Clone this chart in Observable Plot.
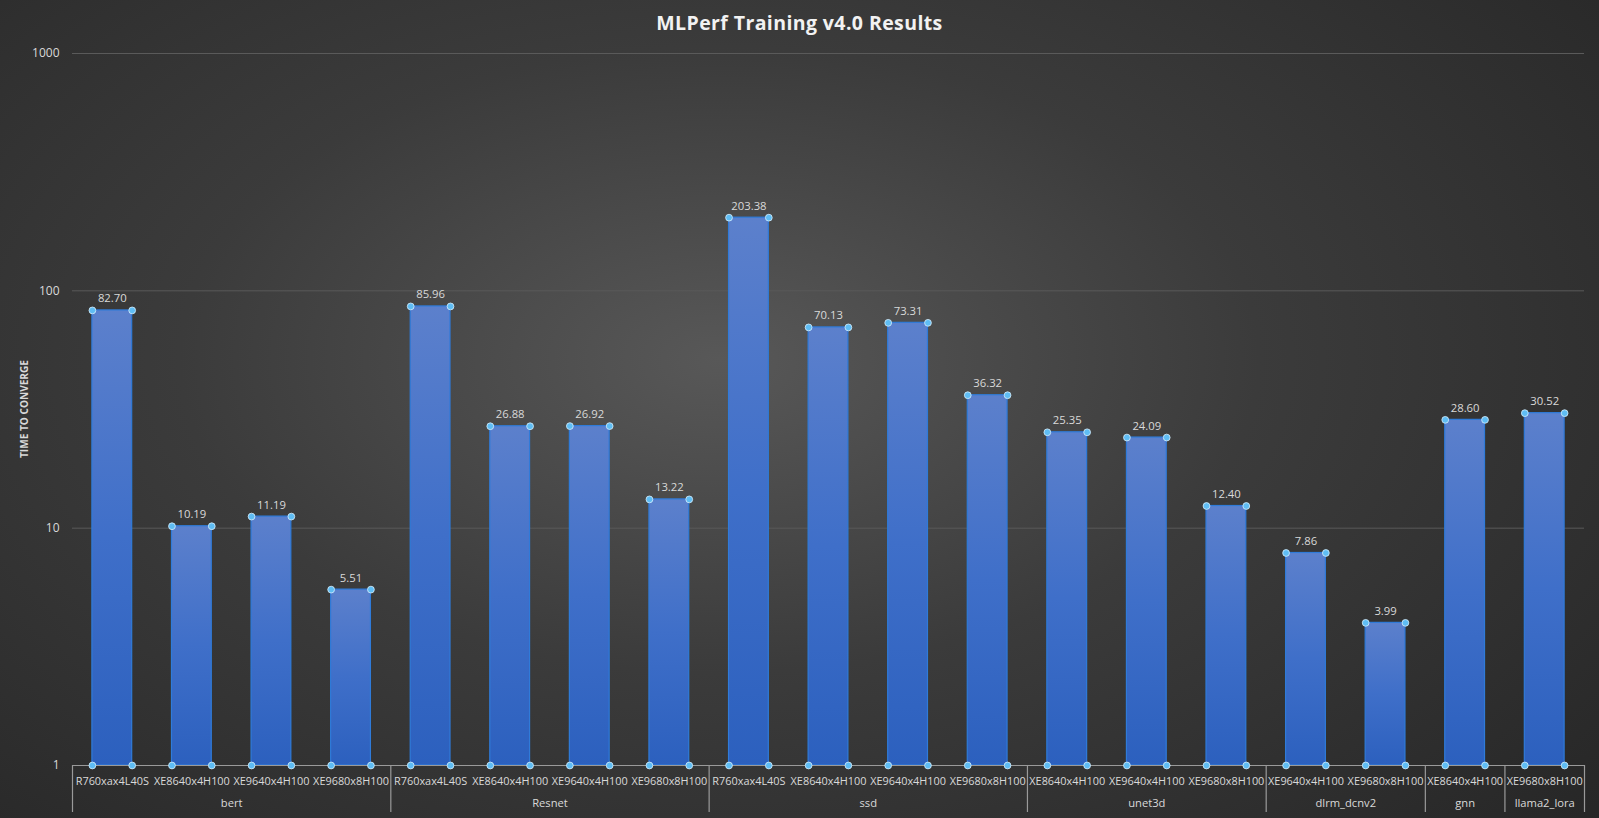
<!DOCTYPE html>
<html>
<head>
<meta charset="utf-8">
<script src="https://cdn.jsdelivr.net/npm/d3@7"></script>
<script src="https://cdn.jsdelivr.net/npm/@observablehq/plot@0.6"></script>
<style>
  html, body { margin: 0; padding: 0; }
  body {
    width: 1599px; height: 818px; overflow: hidden;
    background: radial-gradient(ellipse 75% 85% at 45% 44%, #585858 0%, #3b3b3b 45%, #262626 100%);
    font-family: "Open Sans", sans-serif;
    position: relative;
  }
  #title {
    position: absolute; left: 0; top: 9px; width: 1599px; text-align: center;
    color: #f2f2f2; font: bold 19.5px "Open Sans", sans-serif; letter-spacing: 0.4px;
  }
  #chart { position: absolute; left: 0; top: 0; }
</style>
</head>
<body>
<div id="title">MLPerf Training v4.0 Results</div>
<div id="chart"></div>
<script>
// ---- data ----
const benchmarks = ["bert","bert","bert","bert","Resnet","Resnet","Resnet","Resnet","ssd","ssd","ssd","ssd","unet3d","unet3d","unet3d","dlrm_dcnv2","dlrm_dcnv2","gnn","llama2_lora"];
const servers = ["R760xax4L40S","XE8640x4H100","XE9640x4H100","XE9680x8H100",
                 "R760xax4L40S","XE8640x4H100","XE9640x4H100","XE9680x8H100",
                 "R760xax4L40S","XE8640x4H100","XE9640x4H100","XE9680x8H100",
                 "XE8640x4H100","XE9640x4H100","XE9680x8H100",
                 "XE9640x4H100","XE9680x8H100",
                 "XE8640x4H100",
                 "XE9680x8H100"];
const timeToConverge = [82.70,10.19,11.19,5.51, 85.96,26.88,26.92,13.22, 203.38,70.13,73.31,36.32, 25.35,24.09,12.40, 7.86,3.99, 28.60, 30.52];
const yTicks = [1, 10, 100, 1000];

// ---- derived tables ----
const rows = servers.map((s, i) => ({i, server: s, group: benchmarks[i], value: timeToConverge[i]}));
const groupNames = [...new Set(benchmarks)];
const groups = groupNames.map(g => {
  const idx = rows.filter(r => r.group === g).map(r => r.i);
  return {name: g, start: idx[0], end: idx[idx.length - 1] + 1};
});
const boundaries = [0, ...groups.map(g => g.end)];
const corners = rows.flatMap(r => [
  {x: r.i + 0.25, y: r.value}, {x: r.i + 0.75, y: r.value},
  {x: r.i + 0.25, y: 1}, {x: r.i + 0.75, y: 1}
]);

const W = 1599, H = 818;
const labelColor = "#d9d9d9";

const plot = Plot.plot({
  width: W, height: H,
  marginLeft: 72, marginRight: 15, marginTop: 53, marginBottom: 53,
  style: {background: "transparent", color: labelColor, fontFamily: "Open Sans, sans-serif", overflow: "visible"},
  x: {type: "linear", domain: [0, rows.length], axis: null},
  y: {type: "log", domain: [1, 1000], axis: null},
  marks: [
    Plot.ruleY(yTicks.filter(t => t > 1), {stroke: "#5a5a5a", strokeWidth: 1}),
    Plot.text(yTicks, {x: 0, y: d => d, text: d => String(d), textAnchor: "end", dx: -13, fill: labelColor, fontSize: 12}),
    Plot.rect(rows, {x1: d => d.i + 0.25, x2: d => d.i + 0.75, y1: 1, y2: "value",
      fill: "url(#barGrad)", stroke: "#2f7bd9", strokeWidth: 1.2}),
    Plot.ruleY([1], {stroke: "#9a9a9a", strokeWidth: 1.2}),
    Plot.ruleX(boundaries, {x: d => d, y1: 1, y2: 1, insetBottom: -47, stroke: "#9a9a9a", strokeWidth: 1.2}),
    Plot.dot(corners, {x: "x", y: "y", r: 3.4, fill: "#5fbdf4", stroke: "#d8effc", strokeWidth: 0.8}),
    Plot.text(rows, {x: d => d.i + 0.5, y: "value", text: d => d.value.toFixed(2), lineAnchor: "bottom", dy: -8, fill: labelColor, fontSize: 11.3}),
    Plot.text(rows, {x: d => d.i + 0.5, y: 1, text: "server", lineAnchor: "middle", dy: 16, fill: labelColor, fontSize: 10.9}),
    Plot.text(groups, {x: d => (d.start + d.end) / 2, y: 1, text: "name", lineAnchor: "middle", dy: 38, fill: labelColor, fontSize: 11.2})
  ]
});

const svg = d3.select(plot);
const defs = svg.insert("defs", ":first-child");
const grad = defs.append("linearGradient").attr("id", "barGrad")
  .attr("gradientUnits", "objectBoundingBox").attr("x1", 0).attr("y1", 0).attr("x2", 0).attr("y2", 1);
grad.append("stop").attr("offset", "0%").attr("stop-color", "#5c80cc");
grad.append("stop").attr("offset", "50%").attr("stop-color", "#3f6fc9");
grad.append("stop").attr("offset", "100%").attr("stop-color", "#2c60be");

svg.append("text")
  .attr("transform", `translate(28, ${(53 + 765) / 2}) rotate(-90)`)
  .attr("text-anchor", "middle")
  .attr("fill", labelColor)
  .attr("font-weight", "bold")
  .attr("font-size", 11)
  .attr("textLength", 98)
  .attr("lengthAdjust", "spacingAndGlyphs")
  .text("TIME TO CONVERGE");

document.getElementById("chart").append(plot);
</script>
</body>
</html>
